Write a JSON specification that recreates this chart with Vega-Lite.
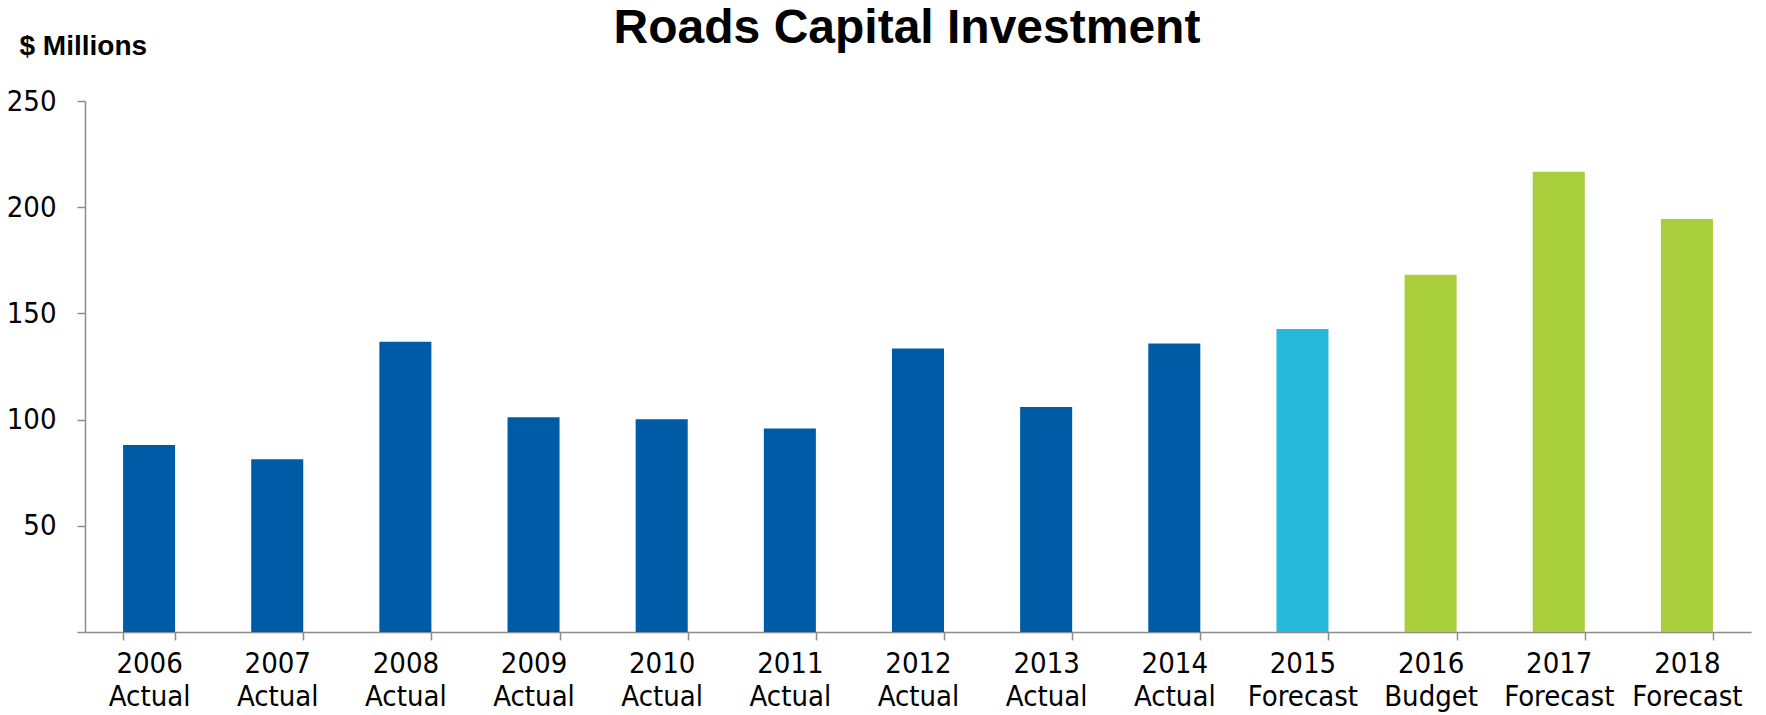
{
  "$schema": "https://vega.github.io/schema/vega-lite/v6.json",
  "width": 1666,
  "height": 531,
  "autosize": {"type": "none"},
  "padding": {"left": 85, "top": 101, "right": 15, "bottom": 83},
  "background": "white",
  "title": {
    "text": "Roads Capital Investment",
    "font": "Liberation Sans",
    "fontSize": 48,
    "fontWeight": "bold",
    "color": "#000000",
    "anchor": "middle",
    "frame": "group",
    "baseline": "alphabetic",
    "dx": -11,
    "offset": -59
  },
  "data": {
    "values": [
      {"label": "2006 Actual", "period": "Actual", "value": 88.1},
      {"label": "2007 Actual", "period": "Actual", "value": 81.3},
      {"label": "2008 Actual", "period": "Actual", "value": 136.7},
      {"label": "2009 Actual", "period": "Actual", "value": 101.1},
      {"label": "2010 Actual", "period": "Actual", "value": 100.2},
      {"label": "2011 Actual", "period": "Actual", "value": 95.8},
      {"label": "2012 Actual", "period": "Actual", "value": 133.5},
      {"label": "2013 Actual", "period": "Actual", "value": 105.9},
      {"label": "2014 Actual", "period": "Actual", "value": 135.8},
      {"label": "2015 Forecast", "period": "Current", "value": 142.7},
      {"label": "2016 Budget", "period": "Plan", "value": 168.2},
      {"label": "2017 Forecast", "period": "Plan", "value": 216.7},
      {"label": "2018 Forecast", "period": "Plan", "value": 194.5}
    ]
  },
  "mark": {"type": "bar"},
  "encoding": {
    "x": {
      "field": "label",
      "type": "nominal",
      "sort": null,
      "scale": {"paddingInner": 0.594, "paddingOuter": 0.297},
      "axis": {
        "title": null,
        "labelAngle": 0,
        "labelExpr": "split(datum.label, ' ')",
        "labelFont": "DejaVu Sans Condensed, sans-serif",
        "labelFontSize": 29,
        "labelLineHeight": 33,
        "labelColor": "#000000",
        "labelPadding": 9,
        "labelBaseline": "top",
        "tickBand": "extent",
        "tickSize": 8,
        "tickColor": "#8c8c8c",
        "tickWidth": 1.5,
        "domainColor": "#8c8c8c",
        "domainWidth": 1.5
      }
    },
    "y": {
      "field": "value",
      "type": "quantitative",
      "scale": {"domain": [0, 250], "nice": false},
      "axis": {
        "values": [0, 50, 100, 150, 200, 250],
        "labelExpr": "datum.value == 0 ? '' : datum.label",
        "grid": false,
        "title": "$ Millions",
        "titleFont": "Liberation Sans",
        "titleFontSize": 28,
        "titleFontWeight": "bold",
        "titleColor": "#000000",
        "titleAngle": 0,
        "titleAlign": "left",
        "titleBaseline": "alphabetic",
        "titleX": -66,
        "titleY": -47,
        "labelFont": "DejaVu Sans Condensed, sans-serif",
        "labelFontSize": 29,
        "labelColor": "#000000",
        "labelPadding": 21,
        "tickSize": 8,
        "tickColor": "#8c8c8c",
        "tickWidth": 1.5,
        "domainColor": "#8c8c8c",
        "domainWidth": 1.5
      }
    },
    "color": {
      "field": "period",
      "type": "nominal",
      "scale": {"domain": ["Actual", "Current", "Plan"], "range": ["#005BA6", "#27B9DC", "#A8CF3B"]},
      "legend": null
    }
  },
  "config": {"view": {"stroke": null}}
}
